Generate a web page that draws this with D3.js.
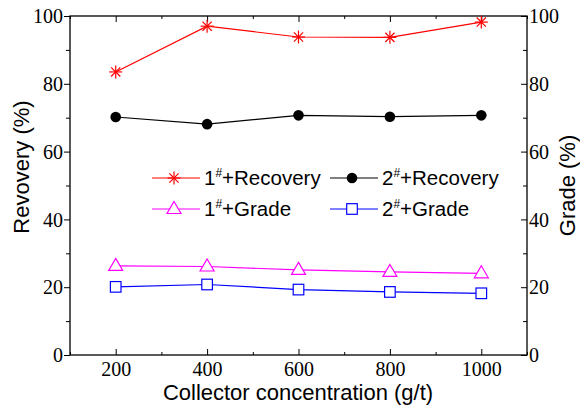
<!DOCTYPE html>
<html><head><meta charset="utf-8">
<script src="https://cdn.jsdelivr.net/npm/d3@7"></script>
<style>body{margin:0;background:#fff}svg{display:block}</style>
</head><body>
<svg id="c" width="580" height="408"></svg>
<script>
const concentrations = [200, 400, 600, 800, 1000];
const recovery1 = [83.5, 97.0, 93.8, 93.7, 98.2];
const recovery2 = [70.2, 68.1, 70.7, 70.3, 70.7];
const grade1 = [26.3, 26.1, 25.1, 24.5, 24.1];
const grade2 = [20.1, 20.8, 19.3, 18.6, 18.2];
const yTicks = [0, 20, 40, 60, 80, 100];
const xTicks = [200, 400, 600, 800, 1000];

const svg = d3.select('#c');
const L = 70, R = 527, T = 16, B = 355;
const x = d3.scaleLinear().domain([100, 1100]).range([L, R]);
const y = d3.scaleLinear().domain([0, 100]).range([B, T]);
const y2 = d3.scaleLinear().domain([0, 100]).range([B, T]);

const serif = 'Liberation Serif';
const sans = 'Liberation Sans';
const tickFs = 20;

const minorX = d3.range(100, 1101, 100);
const minorY = d3.range(0, 101, 10);

function prep(g) {
  g.attr('font-family', null).attr('font-size', null);
  g.select('.domain').remove();
  g.selectAll('.tick line').remove();
  g.selectAll('.tick text').remove();
}

// bottom axis: ticks inward
const gB = svg.append('g').attr('transform', `translate(0,${B})`)
  .call(d3.axisBottom(x).tickValues(minorX).tickSize(0).tickFormat(''));
prep(gB);
gB.selectAll('.tick').append('line').attr('stroke', '#000').attr('stroke-width', 1)
  .attr('y1', 0).attr('y2', d => xTicks.includes(d) ? -6 : -3);
gB.selectAll('.tick').filter(d => xTicks.includes(d)).append('text')
  .attr('font-family', serif).attr('font-size', tickFs)
  .attr('y', 21).attr('text-anchor', 'middle').attr('fill', '#000').text(d => d);

// top axis: ticks inward
const gT = svg.append('g').attr('transform', `translate(0,${T})`)
  .call(d3.axisTop(x).tickValues(minorX).tickSize(0).tickFormat(''));
prep(gT);
gT.selectAll('.tick').append('line').attr('stroke', '#000')
  .attr('y1', 0).attr('y2', d => xTicks.includes(d) ? 6 : 3);

// left axis: ticks outward
const gL = svg.append('g').attr('transform', `translate(${L},0)`)
  .call(d3.axisLeft(y).tickValues(minorY).tickSize(0).tickFormat(''));
prep(gL);
gL.selectAll('.tick').append('line').attr('stroke', '#000')
  .attr('x1', 0).attr('x2', d => yTicks.includes(d) ? -6 : -4);
gL.selectAll('.tick').filter(d => yTicks.includes(d)).append('text')
  .attr('font-family', serif).attr('font-size', tickFs)
  .attr('x', -7).attr('dy', '0.33em').attr('text-anchor', 'end').attr('fill', '#000').text(d => d);

// right axis: ticks inward
const gR = svg.append('g').attr('transform', `translate(${R},0)`)
  .call(d3.axisRight(y2).tickValues(minorY).tickSize(0).tickFormat(''));
prep(gR);
gR.selectAll('.tick').append('line').attr('stroke', '#000')
  .attr('x1', 0).attr('x2', d => yTicks.includes(d) ? -6 : -4);
gR.selectAll('.tick').filter(d => yTicks.includes(d)).append('text')
  .attr('font-family', serif).attr('font-size', tickFs)
  .attr('x', 2).attr('dy', '0.33em').attr('text-anchor', 'start').attr('fill', '#000').text(d => d);

svg.append('rect').attr('x', L).attr('y', T).attr('width', R - L).attr('height', B - T)
  .attr('fill', 'none').attr('stroke', '#000').attr('stroke-width', 1.3);

// series
const series = [
  {name: '1', vals: recovery1, color: '#ff0000', marker: 'star', sc: y, label: 'Recovery'},
  {name: '2', vals: recovery2, color: '#000000', marker: 'circle', sc: y, label: 'Recovery'},
  {name: '1', vals: grade1, color: '#ff00ff', marker: 'triangle', sc: y2, label: 'Grade'},
  {name: '2', vals: grade2, color: '#0000ff', marker: 'square', sc: y2, label: 'Grade'}
];

function drawMarker(g, type, color) {
  if (type === 'star') {
    const r = 6.5;
    for (let i = 0; i < 4; i++) {
      const a = i * Math.PI / 4;
      g.append('line').attr('x1', -r * Math.cos(a)).attr('y1', -r * Math.sin(a))
        .attr('x2', r * Math.cos(a)).attr('y2', r * Math.sin(a))
        .attr('stroke', color).attr('stroke-width', 1.2);
    }
  } else if (type === 'circle') {
    g.append('circle').attr('r', 5.3).attr('fill', color);
  } else if (type === 'triangle') {
    g.append('path').attr('d', 'M0,-7.5L7,4.5L-7,4.5Z').attr('fill', '#fff')
      .attr('stroke', color).attr('stroke-width', 1.2);
  } else if (type === 'square') {
    g.append('rect').attr('x', -5.3).attr('y', -5.3).attr('width', 10.6).attr('height', 10.6)
      .attr('fill', '#fff').attr('stroke', color).attr('stroke-width', 1.2);
  }
}

series.forEach(s => {
  const line = d3.line().x((d, i) => x(concentrations[i])).y(d => s.sc(d));
  svg.append('path').datum(s.vals).attr('d', line).attr('fill', 'none')
    .attr('stroke', s.color).attr('stroke-width', 1.2);
  s.vals.forEach((v, i) => {
    const g = svg.append('g').attr('transform', `translate(${x(concentrations[i])},${s.sc(v)})`);
    drawMarker(g, s.marker, s.color);
  });
});

// legend
const legPos = [[152, 178], [330, 178], [152, 209], [330, 209]];
series.forEach((s, i) => {
  const [lx, ly] = legPos[i];
  const g = svg.append('g').attr('transform', `translate(${lx},${ly})`);
  g.append('line').attr('x1', 0).attr('x2', 48).attr('stroke', s.color).attr('stroke-width', 1.2);
  const m = g.append('g').attr('transform', 'translate(22,0)');
  drawMarker(m, s.marker, s.color);
  const t = g.append('text').attr('x', 52).attr('y', 7).attr('fill', '#000')
    .attr('font-family', sans).attr('font-size', 20.5);
  t.append('tspan').text(s.name);
  t.append('tspan').attr('dy', -8).attr('font-size', 12).text('#');
  t.append('tspan').attr('dy', 8).text('+' + s.label);
});

// axis titles
svg.append('text').attr('x', 298).attr('y', 400).attr('text-anchor', 'middle')
  .attr('font-family', sans).attr('font-size', 22).text('Collector concentration (g/t)');
svg.append('text').attr('transform', `translate(29,167) rotate(-90)`)
  .attr('text-anchor', 'middle').attr('font-family', sans).attr('font-size', 22).text('Revovery (%)');
svg.append('text').attr('transform', `translate(575,${(T + B) / 2}) rotate(-90)`)
  .attr('text-anchor', 'middle').attr('font-family', sans).attr('font-size', 22).text('Grade (%)');
</script>
</body></html>
